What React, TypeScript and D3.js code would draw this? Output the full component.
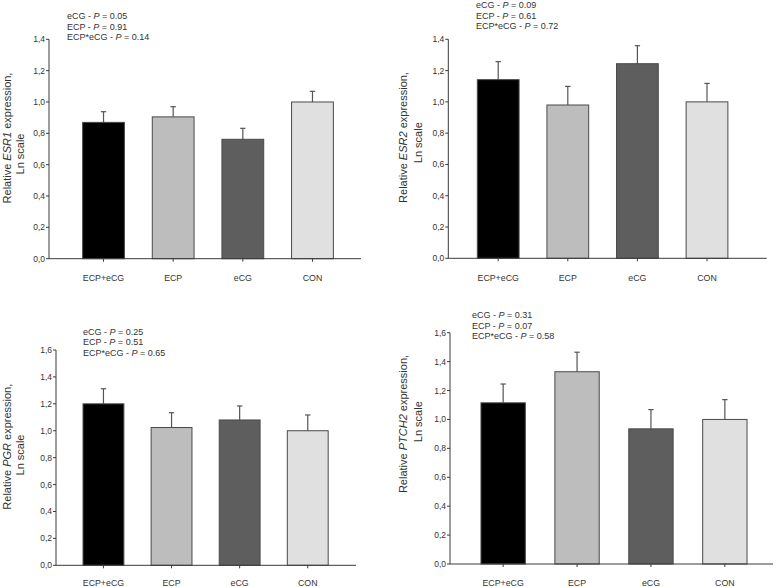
import React from "react";
import * as d3 from "d3";

const categories = ["ECP+eCG", "ECP", "eCG", "CON"];
const barColors = ["#000000", "#bdbdbd", "#5e5e5e", "#e0e0e0"];

const esr1Means = [0.87, 0.905, 0.762, 1.0];
const esr1Errors = [0.068, 0.065, 0.07, 0.068];
const esr1Stats = ["0.05", "0.91", "0.14"];

const esr2Means = [1.142, 0.98, 1.244, 1.0];
const esr2Errors = [0.115, 0.119, 0.115, 0.118];
const esr2Stats = ["0.09", "0.61", "0.72"];

const pgrMeans = [1.2, 1.024, 1.08, 1.0];
const pgrErrors = [0.112, 0.11, 0.104, 0.117];
const pgrStats = ["0.25", "0.51", "0.65"];

const ptch2Means = [1.115, 1.33, 0.935, 1.0];
const ptch2Errors = [0.13, 0.135, 0.133, 0.137];
const ptch2Stats = ["0.31", "0.07", "0.58"];

const ticks14 = [0, 0.2, 0.4, 0.6, 0.8, 1.0, 1.2, 1.4];
const ticks16 = [0, 0.2, 0.4, 0.6, 0.8, 1.0, 1.2, 1.4, 1.6];
const statLabels = ["eCG", "ECP", "ECP*eCG"];

const FONT = "'Liberation Sans', Arial, sans-serif";

type PanelProps = {
  gene: string;
  means: number[];
  errors: number[];
  stats: string[];
  ticks: number[];
  axisX: number;
  y0: number;
  yTop: number;
  xEnd: number;
  bandStart: number;
  bandEnd: number;
  statX: number;
  statY: number;
  tickLabelY: number;
  label1: [number, number];
  label2: [number, number];
};

function Panel(p: PanelProps) {
  const maxV = p.ticks[p.ticks.length - 1];
  const y = d3.scaleLinear().domain([0, maxV]).range([p.y0, p.yTop]);
  const x = d3
    .scaleBand<string>()
    .domain(categories)
    .range([p.bandStart, p.bandEnd])
    .paddingInner(0.4)
    .paddingOuter(0.2);
  const fmt = (v: number) => d3.format(".1f")(v).replace(".", ",");
  const axisColor = "#3a3a3a";
  const textColor = "#333";
  return (
    <g fontFamily={FONT}>
      {statLabels.map((s, i) => (
        <text key={s} x={p.statX} y={p.statY + i * 10.5} fontSize={9} fill={textColor}>
          {s} - <tspan fontStyle="italic">P</tspan> = {p.stats[i]}
        </text>
      ))}
      <text
        transform={`translate(${p.label1[0]},${p.label1[1]}) rotate(-90)`}
        textAnchor="middle"
        fontSize={11}
        fill={textColor}
      >
        Relative <tspan fontStyle="italic">{p.gene}</tspan> expression,
      </text>
      <text
        transform={`translate(${p.label2[0]},${p.label2[1]}) rotate(-90)`}
        textAnchor="middle"
        fontSize={11}
        fill={textColor}
      >
        Ln scale
      </text>
      {categories.map((c, i) => {
        const bx = x(c)!;
        const bw = x.bandwidth();
        const top = y(p.means[i]);
        const cap = y(p.means[i] + p.errors[i]);
        const cx = bx + bw / 2;
        return (
          <g key={c}>
            <line x1={cx} x2={cx} y1={top} y2={cap} stroke="#555" strokeWidth={1.2} />
            <line x1={cx - 2.7} x2={cx + 2.7} y1={cap} y2={cap} stroke="#555" strokeWidth={1.2} />
            <rect
              x={bx}
              y={top}
              width={bw}
              height={p.y0 - top}
              fill={barColors[i]}
              stroke="#4a4a4a"
              strokeWidth={1}
            />
          </g>
        );
      })}
      <line x1={p.axisX} x2={p.axisX} y1={p.y0} y2={p.yTop} stroke={axisColor} strokeWidth={1} />
      {p.ticks.map((t) => (
        <g key={t}>
          <line x1={p.axisX - 3} x2={p.axisX} y1={y(t)} y2={y(t)} stroke={axisColor} strokeWidth={1} />
          <text x={p.axisX - 4} y={y(t) + 3} fontSize={8.5} textAnchor="end" fill={textColor}>
            {fmt(t)}
          </text>
        </g>
      ))}
      <line x1={p.axisX} x2={p.xEnd} y1={p.y0} y2={p.y0} stroke={axisColor} strokeWidth={1} />
      {categories.map((c) => {
        const cx = x(c)! + x.bandwidth() / 2;
        return (
          <g key={c}>
            <line x1={cx} x2={cx} y1={p.y0} y2={p.y0 + 3} stroke={axisColor} strokeWidth={1} />
            <text x={cx} y={p.tickLabelY} fontSize={8.8} textAnchor="middle" fill={textColor}>
              {c}
            </text>
          </g>
        );
      })}
    </g>
  );
}

export default function App() {
  return (
    <svg
      width={778}
      height={587}
      style={{ position: "absolute", left: 0, top: 0, background: "#fff" }}
    >
      <rect width={778} height={587} fill="#fff" />
      <Panel
        gene="ESR1"
        means={esr1Means}
        errors={esr1Errors}
        stats={esr1Stats}
        ticks={ticks14}
        axisX={49}
        y0={258.7}
        yTop={39.3}
        xEnd={361}
        bandStart={68.7}
        bandEnd={347.3}
        statX={67}
        statY={19}
        tickLabelY={280.5}
        label1={[11, 138]}
        label2={[24, 154]}
      />
      <Panel
        gene="ESR2"
        means={esr2Means}
        errors={esr2Errors}
        stats={esr2Stats}
        ticks={ticks14}
        axisX={448.3}
        y0={258.3}
        yTop={39.3}
        xEnd={766.7}
        bandStart={463.4}
        bandEnd={741.8}
        statX={476}
        statY={8}
        tickLabelY={280.5}
        label1={[407, 137.5]}
        label2={[422, 142.7]}
      />
      <Panel
        gene="PGR"
        means={pgrMeans}
        errors={pgrErrors}
        stats={pgrStats}
        ticks={ticks16}
        axisX={56}
        y0={565.3}
        yTop={350}
        xEnd={356}
        bandStart={69.4}
        bandEnd={341.8}
        statX={83}
        statY={334.5}
        tickLabelY={586}
        label1={[11, 446.7]}
        label2={[24, 455]}
      />
      <Panel
        gene="PTCH2"
        means={ptch2Means}
        errors={ptch2Errors}
        stats={ptch2Stats}
        ticks={ticks16}
        axisX={450}
        y0={564}
        yTop={332.7}
        xEnd={773}
        bandStart={466.2}
        bandEnd={761.8}
        statX={472}
        statY={318}
        tickLabelY={586}
        label1={[407, 424]}
        label2={[422, 421.7]}
      />
    </svg>
  );
}
